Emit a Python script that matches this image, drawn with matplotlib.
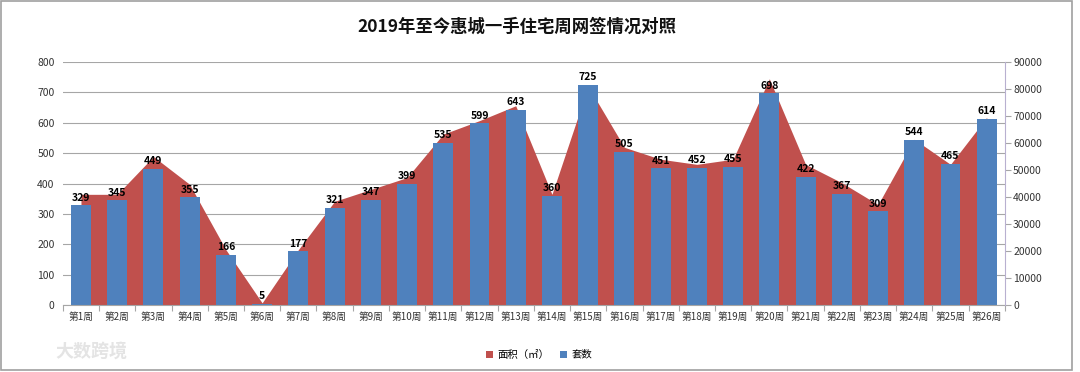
import matplotlib
matplotlib.use("Agg")
import matplotlib.pyplot as plt
from matplotlib.patches import Rectangle, Patch
import numpy as np

plt.rcParams['font.family'] = ['Noto Sans CJK SC', 'DejaVu Sans']

weeks = [f"第{i}周" for i in range(1, 27)]
units = [329, 345, 449, 355, 166, 5, 177, 321, 347, 399, 535, 599, 643, 360,
         725, 505, 451, 452, 455, 698, 422, 367, 309, 544, 465, 614]
area = [41000, 41000, 55000, 44700, 20500, 800, 20500, 38400, 42800, 47200,
        63300, 68300, 73800, 41000, 81000, 58400, 54000, 52100, 54000, 83800,
        52100, 45300, 37200, 61400, 52100, 69500]

title = "2019年至今惠城一手住宅周网签情况对照"
red = "#C0504D"
blue = "#4F81BD"
gray = "#A6A6A6"

fig = plt.figure(figsize=(10.8, 3.72), dpi=100)
ax = fig.add_axes([0.0582, 0.180, 0.8722, 0.6533])
ax2 = ax.twinx()

x = np.arange(len(weeks))
ax2.set_ylim(0, 90000)
ax.set_ylim(0, 800)
ax.set_xlim(-0.5, len(weeks) - 0.5)

# grid
ax.set_yticks(np.arange(0, 801, 100))
ax.yaxis.grid(True, color=gray, linewidth=0.8, zorder=0)
ax.set_axisbelow(True)

# area on the secondary scale, drawn inside primary axes to keep grid below and bars above
ax.fill_between(x, 0, area, transform=ax2.transData, color=red, linewidth=0, zorder=1)
ax.set_ylim(0, 800)
ax.set_xlim(-0.5, len(weeks) - 0.5)

bars = ax.bar(x, units, width=0.55, color=blue, zorder=2)
for xi, v in zip(x, units):
    ax.text(xi, v + 8, str(v), ha='center', va='bottom', fontsize=7.5,
            fontweight='bold', color='black', zorder=3)

ax.set_xticks(x)
ax.set_xticklabels(weeks, fontsize=7, color='#333333')
ax.set_xticks(np.arange(-0.5, len(weeks), 1), minor=True)
ax.tick_params(axis='x', which='major', length=0, pad=5)
ax.tick_params(axis='x', which='minor', length=4, color=gray, width=0.8)
ax.tick_params(axis='y', length=0, labelsize=7.5, labelcolor='#333333', pad=6)

ax2.set_yticks(np.arange(0, 90001, 10000))
ax2.tick_params(axis='y', length=4, color=gray, labelsize=7.5, labelcolor='#333333', pad=2)

for a in (ax, ax2):
    a.spines['top'].set_visible(False)
    a.spines['left'].set_visible(False)
    a.spines['bottom'].set_color(gray)
    a.spines['right'].set_color('#B8B0D0')
ax2.spines['bottom'].set_visible(False)
ax.spines['right'].set_visible(False)

fig.text(0.479, 0.928, title, ha='center', va='center', fontsize=12.5, fontweight='bold', color='#111111')

handles = [Patch(facecolor=red, label='面积（㎡）'), Patch(facecolor=blue, label='套数')]
fig.legend(handles=handles, loc='center', bbox_to_anchor=(0.499, 0.046), ncol=2, frameon=False,
           fontsize=7.5, handlelength=0.7, handleheight=0.7, handletextpad=0.4, columnspacing=1.0)

fig.text(0.085, 0.055, "大数跨境", ha='center', va='center', fontsize=13, color='#e4e4e4', fontweight='bold')

fig.add_artist(Rectangle((0.001, 0.005), 0.992, 0.993, transform=fig.transFigure,
                         fill=False, edgecolor='#A0A0A0', linewidth=1.2))

fig.savefig('out.png', dpi=100)
